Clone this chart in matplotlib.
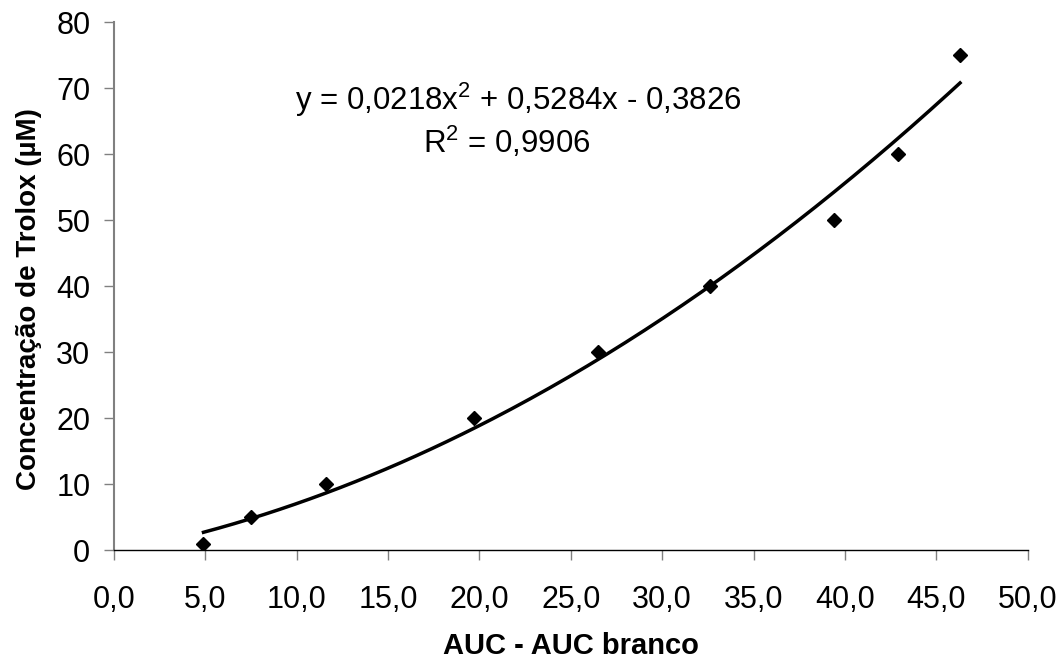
import numpy as np
import matplotlib
matplotlib.use("Agg")
import matplotlib.pyplot as plt

plt.rcParams['font.family'] = ['Liberation Sans', 'DejaVu Sans']
plt.rcParams['mathtext.fontset'] = 'custom'
plt.rcParams['mathtext.rm'] = 'Liberation Sans'
plt.rcParams['mathtext.default'] = 'regular'

# data
auc = [4.9, 7.5, 11.6, 19.7, 26.5, 32.6, 39.4, 42.9, 46.3]
trolox = [1, 5, 10, 20, 30, 40, 50, 60, 75]

# trend line from the printed equation
coef = [0.0218, 0.5284, -0.3826]
r2 = "0,9906"

x_ticks = np.arange(0, 55, 5)
x_ticklabels = ["%.1f" % v for v in x_ticks]
x_ticklabels = [s.replace(".", ",") for s in x_ticklabels]
y_ticks = np.arange(0, 90, 10)

fig = plt.figure(figsize=(10.6, 6.6), dpi=100)
ax = fig.add_axes([0.1075, 0.1662, 0.862, 0.80])

xs = np.linspace(min(auc), max(auc), 200)
ax.plot(xs, np.polyval(coef, xs), color="black", lw=2.5, zorder=2)
ax.plot(auc, trolox, ls="none", marker="D", ms=7, color="black", zorder=3)

ax.set_xlim(0, 50)
ax.set_ylim(0, 80)
ax.set_xticks(x_ticks)
ax.set_xticklabels(x_ticklabels)
ax.set_yticks(y_ticks)

for s in ["top", "right"]:
    ax.spines[s].set_visible(False)
ax.spines["left"].set_color("#808080")
ax.spines["left"].set_linewidth(1.5)
ax.spines["bottom"].set_color("black")
ax.spines["bottom"].set_linewidth(1.0)

ax.tick_params(axis="x", length=7, width=1, color="#808080", pad=18, labelsize=22)
ax.tick_params(axis="y", length=7, width=1, color="#808080", pad=10, labelsize=22)

ax.set_xlabel("AUC - AUC branco", fontsize=21, fontweight="bold")
ax.xaxis.set_label_coords(0.5, -0.155)
ax.set_ylabel("Concentração de Trolox (µM)", fontsize=20, fontweight="bold")
ax.yaxis.set_label_coords(-0.079, 0.476)

eq = "y = 0,0218x$^2$ + 0,5284x - 0,3826"
fig.text(295 / 1060, 1 - 110 / 660, eq, fontsize=22.5, ha="left", va="baseline")
fig.text(423 / 1060, 1 - 153 / 660, "R$^2$ = " + r2, fontsize=22.5, ha="left", va="baseline")

fig.savefig("out.png", dpi=100)
